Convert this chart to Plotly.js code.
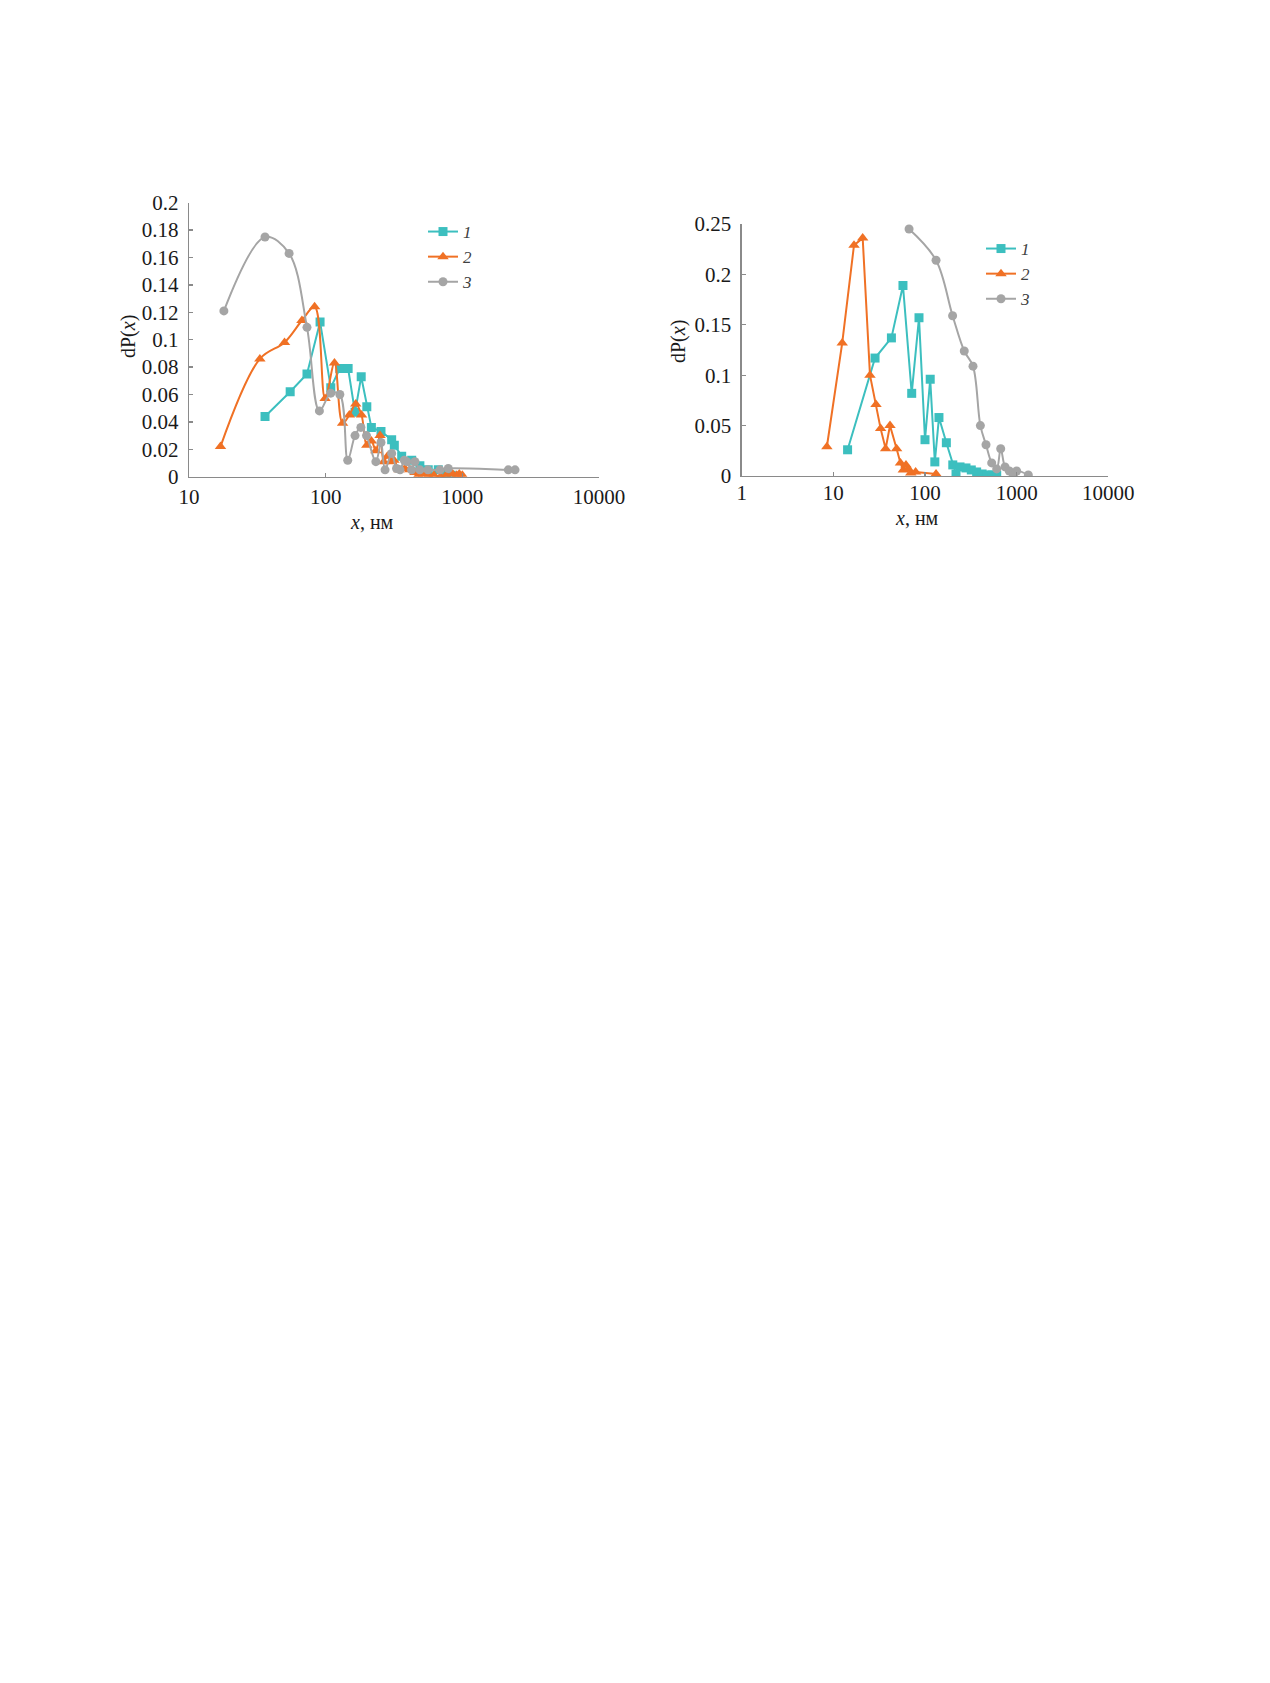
<!DOCTYPE html>
<html>
<head>
<meta charset="utf-8">
<script src="https://cdn.plot.ly/plotly-3.0.1.min.js"></script>
<style>
  html, body { margin: 0; padding: 0; background: #ffffff; }
  #chart { width: 1270px; height: 1683px; }
</style>
</head>
<body>
<div id="chart"></div>
<script>
// ── Data ───────────────────────────────────────────────────────────────────────

// left panel
const leftX1 = [36, 55, 73, 91, 109, 127, 146, 164, 182, 200, 216, 254, 304, 318, 360, 426, 489, 563, 667, 767, 830];
const leftY1 = [0.044, 0.062, 0.075, 0.113, 0.065, 0.079, 0.079, 0.047, 0.073, 0.051, 0.036, 0.033, 0.027, 0.023, 0.015, 0.012, 0.008, 0.005, 0.005, 0.0025, 0.001];

const leftX2 = [17, 33, 50, 67, 83, 99, 116, 133, 149, 166, 183, 200, 216, 233, 250, 266, 283, 300, 316, 345, 380, 414, 450, 477, 520, 563, 620, 692, 760, 850, 910, 950, 1000];
const leftY2 = [0.022, 0.086, 0.098, 0.114, 0.124, 0.057, 0.083, 0.039, 0.045, 0.053, 0.045, 0.023, 0.026, 0.019, 0.030, 0.011, 0.015, 0.011, 0.012, 0.005, 0.006, 0.005, 0.003, 0.001, 0.002, 0.001, 0.001, 0.0, 0.001, 0.002, 0.001, 0.002, 0.001];

const leftX3 = [18, 36, 54, 73, 90, 109, 127, 145, 164, 181, 199, 233, 254, 272, 304, 330, 350, 376, 392, 425, 450, 489, 560, 686, 789, 2170, 2430];
const leftY3 = [0.121, 0.175, 0.163, 0.109, 0.048, 0.061, 0.060, 0.012, 0.030, 0.036, 0.030, 0.011, 0.025, 0.005, 0.017, 0.006, 0.005, 0.012, 0.011, 0.005, 0.011, 0.005, 0.005, 0.005, 0.006, 0.005, 0.005];

// right panel
const rightX1 = [14.3, 28.5, 43, 57.5, 71.6, 86, 100, 114, 128, 142, 171, 201, 218, 241, 280, 320, 366, 420, 480, 540, 606];
const rightY1 = [0.026, 0.117, 0.137, 0.189, 0.082, 0.157, 0.036, 0.096, 0.014, 0.058, 0.033, 0.011, 0.002, 0.009, 0.008, 0.006, 0.004, 0.002, 0.001, 0.001, 0.001];

const rightX2 = [8.5, 12.5, 16.8, 20.9, 25.1, 29.2, 32.8, 37.2, 41.5, 49, 54, 58, 62, 66, 70, 79, 132];
const rightY2 = [0.029, 0.132, 0.229, 0.236, 0.100, 0.071, 0.047, 0.027, 0.050, 0.027, 0.013, 0.006, 0.011, 0.007, 0.003, 0.004, 0.002];

const rightX3 = [67, 132, 200, 268, 334, 402, 463, 534, 606, 670, 747, 832, 920, 1000, 1340];
const rightY3 = [0.245, 0.214, 0.159, 0.124, 0.109, 0.050, 0.031, 0.013, 0.007, 0.027, 0.009, 0.005, 0.001, 0.005, 0.001];

// tick labels
const leftYTicks = [0, 0.02, 0.04, 0.06, 0.08, 0.1, 0.12, 0.14, 0.16, 0.18, 0.2];
const leftYText = ["0", "0.02", "0.04", "0.06", "0.08", "0.1", "0.12", "0.14", "0.16", "0.18", "0.2"];
const rightYTicks = [0, 0.05, 0.1, 0.15, 0.2, 0.25];
const rightYText = ["0", "0.05", "0.1", "0.15", "0.2", "0.25"];
const leftXTicks = [10, 100, 1000, 10000];
const rightXTicks = [1, 10, 100, 1000, 10000];

const seriesNames = ["1", "2", "3"];

// ── Styling ────────────────────────────────────────────────────────────────────

const W = 1270, H = 1683;
const TEAL = "#3cbfbf";
const ORANGE = "#f07125";
const GRAY = "#a5a5a5";
const SERIF = "'Liberation Serif', 'DejaVu Serif', serif";
const AXIS_COLOR = "#8a8a8a";
const TEXT_COLOR = "#1a1a1a";

// pixel helpers: domains and positions are given in picture pixels
const px = (v) => v / W;
const py = (v) => 1 - v / H;

function trace(x, y, i, color, symbol, shape, axes, legend) {
  return {
    x, y,
    type: "scatter",
    mode: "lines+markers",
    name: seriesNames[i],
    xaxis: axes[0],
    yaxis: axes[1],
    legend,
    line: { color, width: 2, shape, smoothing: 1 },
    marker: { color, symbol, size: symbol === "triangle-up" ? 10 : 9 },
  };
}

const traces = [
  trace(leftX1, leftY1, 0, TEAL, "square", "linear", ["x", "y"], "legend"),
  trace(leftX2, leftY2, 1, ORANGE, "triangle-up", "spline", ["x", "y"], "legend"),
  trace(leftX3, leftY3, 2, GRAY, "circle", "spline", ["x", "y"], "legend"),
  trace(rightX1, rightY1, 0, TEAL, "square", "linear", ["x2", "y2"], "legend2"),
  trace(rightX2, rightY2, 1, ORANGE, "triangle-up", "linear", ["x2", "y2"], "legend2"),
  trace(rightX3, rightY3, 2, GRAY, "circle", "spline", ["x2", "y2"], "legend2"),
];

function xAxis(domain, range, ticks, anchor, standoff) {
  return {
    type: "log",
    domain, range, anchor,
    tickvals: ticks,
    ticktext: ticks.map(String),
    ticks: "inside", ticklen: 4, tickcolor: AXIS_COLOR, tickwidth: 1.3,
    ticklabelstandoff: standoff,
    showline: true, linecolor: AXIS_COLOR, linewidth: 1.3,
    showgrid: false, zeroline: false,
    tickfont: { family: SERIF, size: 21, color: TEXT_COLOR },
  };
}

function yAxis(domain, range, vals, text, anchor) {
  return {
    domain, range, anchor,
    tickvals: vals,
    ticktext: text,
    ticks: "inside", ticklen: 4, tickcolor: AXIS_COLOR, tickwidth: 1.3,
    ticklabelstandoff: 5,
    showline: true, linecolor: AXIS_COLOR, linewidth: 1.3,
    showgrid: false, zeroline: false,
    tickfont: { family: SERIF, size: 21, color: TEXT_COLOR },
  };
}

function legendAt(x, y) {
  return {
    x: px(x), y: py(y), xanchor: "left", yanchor: "top",
    bgcolor: "rgba(0,0,0,0)",
    font: { family: SERIF, size: 17, style: "italic", color: "#404040" },
    itemwidth: 30,
    tracegroupgap: 0,
  };
}

const titleFont = { family: SERIF, size: 20, color: TEXT_COLOR };

function title(text, x, y, angle) {
  return {
    text, x: px(x), y: py(y), xref: "paper", yref: "paper",
    xanchor: "center", yanchor: "middle",
    textangle: angle, showarrow: false, font: titleFont,
  };
}

const layout = {
  width: W, height: H,
  margin: { t: 0, r: 0, b: 0, l: 0 },
  paper_bgcolor: "#ffffff",
  plot_bgcolor: "#ffffff",
  showlegend: true,
  xaxis: xAxis([px(189), px(599)], [1, 4], leftXTicks, "y", 1),
  yaxis: yAxis([py(476.7), py(202.7)], [0, 0.2], leftYTicks, leftYText, "x"),
  xaxis2: xAxis([px(741.7), px(1108.3)], [0, 4], rightXTicks, "y2", -3),
  yaxis2: yAxis([py(476), py(224)], [0, 0.25], rightYTicks, rightYText, "x2"),
  legend: legendAt(423, 214),
  legend2: legendAt(981, 231),
  annotations: [
    title("dP(<i>x</i>)", 128, 337, -90),
    title("<i>x</i>, нм", 372, 522, 0),
    title("dP(<i>x</i>)", 678, 342, -90),
    title("<i>x</i>, нм", 917, 518, 0),
  ],
};

Plotly.newPlot("chart", traces, layout, { displayModeBar: false, staticPlot: true });
</script>
</body>
</html>
